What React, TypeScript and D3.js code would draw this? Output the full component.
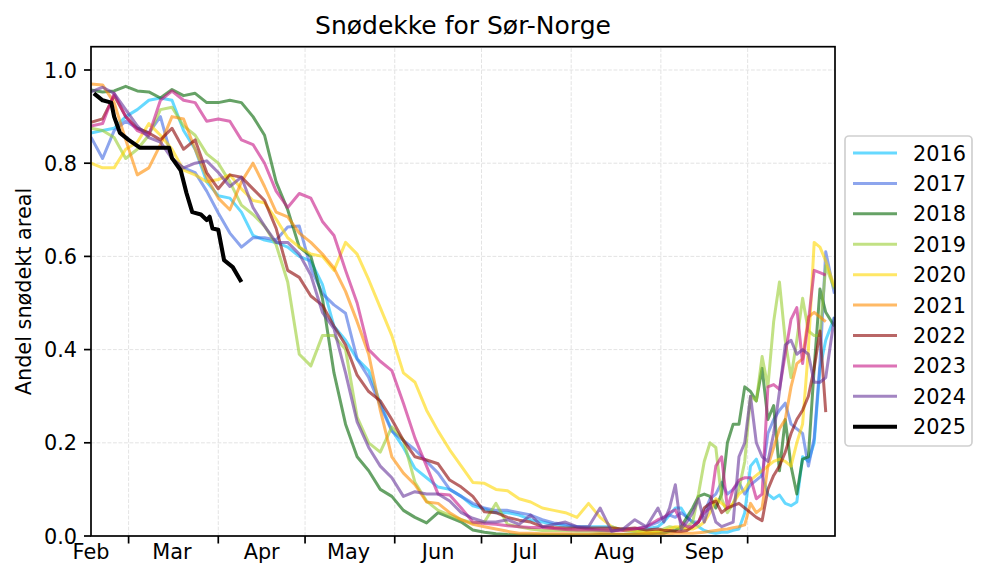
import * as d3 from "d3";

// ── Data ──────────────────────────────────────────────────────────────────────

// days since 16 Feb; every 4 days until August, then every 2 where the autumn snow gets noisy
const days = [
  0, 4, 8, 12, 16, 20, 24, 28, 32, 36,
  40, 44, 48, 52, 56, 60, 64, 68, 72, 76,
  80, 84, 88, 92, 96, 100, 104, 108, 112, 116,
  120, 124, 128, 132, 136, 140, 144, 148, 152, 156,
  160, 164, 168, 172, 176, 180, 184, 188, 192,
  196, 198, 200, 202, 204, 206, 208, 210, 212, 214,
  216, 218, 220, 222, 224, 226, 228, 230, 232, 234,
  236, 238, 240, 242, 244, 246, 248, 250, 252, 254, 257,
];

const y2016 = [
  .865, .87, .875, .90, .915, .935, .94, .935, .87, .83,
  .76, .73, .725, .695, .645, .635, .63, .62, .60, .59,
  .54, .45, .42, .38, .355, .285, .227, .19, .145, .125,
  .105, .10, .085, .065, .058, .05, .05, .045, .035, .03,
  .025, .022, .02, .02, .02, .02, .012, .01, .015,
  .02, .03, .045, .06, .06, .04, .03, .02, .012, .008,
  .006, .008, .008, .012, .015, .05, .15, .165, .13, .09,
  .08, .088, .07, .065, .073, .17, .16, .20, .36, .42, .47,
];
const y2017 = [
  .856, .81, .87, .89, .875, .865, .90, .81, .79, .78,
  .74, .693, .65, .62, .64, .64, .635, .663, .665, .575,
  .52, .496, .478, .38, .34, .28, .225, .205, .185, .16,
  .135, .10, .085, .07, .06, .055, .055, .05, .045, .035,
  .028, .025, .02, .015, .012, .01, .015, .015, .02,
  .03, .04, .045, .04, .05, .04, .03, .03, .05, .08,
  .09, .115, .09, .10, .115, .09, .11, .12, .13, .22,
  .25, .27, .285, .24, .23, .22, .15, .21, .37, .61, .52,
];
const y2018 = [
  .957, .953, .955, .965, .955, .953, .94, .958, .945, .95,
  .93, .93, .935, .93, .90, .86, .76, .70, .62, .60,
  .51, .35, .24, .17, .14, .10, .085, .055, .04, .028,
  .05, .04, .03, .013, .008, .005, .003, .002, .002, .002,
  .002, .002, .002, .002, .003, .003, .003, .004, .005,
  .006, .006, .01, .012, .02, .04, .06, .085, .09, .085,
  .06, .09, .20, .24, .24, .32, .31, .29, .36, .25,
  .28, .14, .25, .15, .09, .165, .17, .36, .53, .48, .45,
];
const y2019 = [
  .875, .87, .855, .81, .83, .86, .915, .92, .88, .86,
  .82, .80, .76, .71, .69, .665, .625, .545, .39, .365,
  .43, .43, .40, .255, .20, .18, .234, .206, .115, .075,
  .055, .045, .035, .028, .03, .07, .025, .02, .015, .012,
  .012, .012, .01, .01, .01, .012, .015, .01, .01,
  .01, .015, .02, .018, .015, .02, .03, .09, .16, .20,
  .19, .08, .05, .07, .10, .16, .30, .29, .385, .32,
  .46, .545, .42, .34, .42, .51, .44, .43, .43, .58, .53,
];
const y2020 = [
  .80, .79, .79, .83, .845, .885, .86, .83, .785, .775,
  .76, .765, .775, .745, .72, .715, .68, .64, .62, .605,
  .60, .57, .63, .605, .55, .49, .43, .35, .33, .27,
  .225, .185, .15, .115, .113, .10, .097, .08, .073, .06,
  .055, .05, .04, .07, .04, .02, .012, .01, .008,
  .01, .012, .015, .02, .02, .015, .015, .02, .03, .05,
  .08, .07, .06, .07, .09, .10, .12, .13, .14, .15,
  .16, .165, .16, .15, .20, .24, .40, .63, .62, .59, .535,
];
const y2021 = [
  .97, .968, .93, .85, .775, .79, .84, .90, .895, .83,
  .77, .725, .70, .76, .80, .75, .695, .685, .65, .63,
  .605, .575, .525, .46, .39, .27, .17, .135, .11, .073,
  .07, .05, .035, .025, .02, .015, .01, .006, .006, .005,
  .005, .005, .004, .004, .005, .005, .004, .004, .005,
  .005, .005, .005, .006, .006, .006, .006, .007, .008, .01,
  .012, .014, .015, .018, .02, .024, .07, .05, .06, .15,
  .19, .23, .25, .32, .37, .38, .47, .48, .47, .46, null,
];
const y2022 = [
  .888, .895, .945, .90, .875, .865, .85, .875, .83, .85,
  .78, .745, .775, .77, .745, .72, .66, .57, .555, .515,
  .495, .45, .41, .345, .31, .29, .25, .205, .17, .163,
  .155, .12, .105, .085, .052, .05, .04, .034, .03, .02,
  .018, .017, .017, .017, .017, .017, .015, .017, .013,
  .015, .012, .012, .01, .01, .012, .02, .03, .06, .07,
  .075, .05, .06, .065, .07, .06, .05, .04, .033, .10,
  .13, .15, .18, .22, .25, .27, .30, .36, .44, .266, null,
];
const y2023 = [
  .88, .885, .95, .90, .87, .86, .935, .955, .935, .93,
  .89, .895, .89, .85, .84, .80, .74, .705, .735, .725,
  .675, .645, .57, .50, .40, .375, .355, .285, .21, .15,
  .09, .088, .06, .03, .027, .025, .022, .02, .018, .018,
  .016, .014, .013, .013, .013, .012, .012, .015, .02,
  .035, .04, .05, .056, .03, .02, .02, .03, .05, .06,
  .15, .17, .06, .10, .12, .125, .125, .08, .09, .32,
  .325, .315, .39, .465, .49, .37, .46, .57, .565, .56, null,
];
const y2024 = [
  .953, .963, .95, .915, .88, .855, .845, .81, .79, .80,
  .805, .78, .75, .77, .705, .665, .63, .63, .605, .56,
  .48, .445, .35, .245, .19, .15, .125, .085, .095, .09,
  .09, .075, .05, .038, .03, .03, .035, .025, .045, .02,
  .025, .03, .02, .02, .06, .01, .015, .035, .02,
  .06, .03, .06, .11, .015, .03, .05, .08, .03, .07,
  .03, .02, .025, .03, .17, .20, .30, .20, .17, .16,
  .22, .31, .41, .42, .39, .40, .39, .33, .33, .34, .47,
];

// this year only runs to late March, read at its own corners
const days2025 = [1, 4, 7, 8, 10, 13, 17, 27, 28, 31, 33, 35, 38, 40, 41, 42, 44, 46, 49, 52];
const y2025 = [
  .95, .935, .93, .90, .865, .85, .833, .833, .811, .785,
  .736, .695, .69, .678, .685, .66, .657, .592, .577, .545,
];

const years = ["2016", "2017", "2018", "2019", "2020", "2021", "2022", "2023", "2024", "2025"];
const colors = [
  "deepskyblue", "royalblue", "darkgreen", "yellowgreen", "gold",
  "darkorange", "darkred", "mediumvioletred", "rebeccapurple", "black",
];
const values = [y2016, y2017, y2018, y2019, y2020, y2021, y2022, y2023, y2024, y2025];

const monthStarts = [13, 44, 74, 105, 135, 166, 197, 227];
const monthMids = [0, 28, 59, 89, 120, 150, 181, 212];
const monthLabels = ["Feb", "Mar", "Apr", "May", "Jun", "Jul", "Aug", "Sep"];
const yTicks = [0, 0.2, 0.4, 0.6, 0.8, 1.0];

// ── Layout ────────────────────────────────────────────────────────────────────

const WIDTH = 988;
const HEIGHT = 578;
const FONT = "'DejaVu Sans', sans-serif";
const INK = "#000";
const GRID = "#dcdcdc";

const x = d3.scaleLinear().domain([0, 257.2]).range([91, 835]);
const y = d3.scaleLinear().domain([0, 1.05]).range([536, 46.7]);
const legendY = d3.scalePoint<string>().domain(years).range([153, 426.7]);

const line = d3
  .line<[number, number | null]>()
  .defined((d) => d[1] !== null)
  .x((d) => x(d[0]))
  .y((d) => y(d[1] as number));

export default function App() {
  return (
    <svg
      width={WIDTH}
      height={HEIGHT}
      style={{ position: "absolute", left: 0, top: 0, background: "#fff" }}
      fontFamily={FONT}
    >
      <defs>
        <clipPath id="plot">
          <rect x={91} y={46.7} width={744} height={489.3} />
        </clipPath>
      </defs>

      {/* Grid */}
      {monthStarts.map((d) => (
        <line key={d} x1={x(d)} x2={x(d)} y1={y(0)} y2={y(1.05)} stroke={GRID} strokeWidth={0.8} strokeDasharray="3.8 1.7" />
      ))}
      {yTicks.slice(1).map((t) => (
        <line key={t} x1={91} x2={835} y1={y(t)} y2={y(t)} stroke={GRID} strokeWidth={0.8} strokeDasharray="3.8 1.7" />
      ))}

      {/* Lines */}
      <g clipPath="url(#plot)" fill="none" strokeLinejoin="round">
        {values.map((vals, i) => {
          const isLast = i === values.length - 1;
          const xs = isLast ? days2025 : days;
          const pts = xs.map((d, j) => [d, vals[j]] as [number, number | null]);
          return (
            <path
              key={years[i]}
              d={line(pts) ?? ""}
              stroke={colors[i]}
              strokeOpacity={isLast ? 1 : 0.6}
              strokeWidth={isLast ? 4.1 : 3}
            />
          );
        })}
      </g>

      {/* Frame */}
      <rect x={91} y={46.7} width={744} height={489.3} fill="none" stroke={INK} strokeWidth={1.7} />

      {/* Y axis */}
      {yTicks.map((t) => (
        <g key={t}>
          <line x1={84} x2={91} y1={y(t)} y2={y(t)} stroke={INK} strokeWidth={1.7} />
          <text x={77} y={y(t) + 7.6} textAnchor="end" fontSize={20.8} fill={INK}>
            {t.toFixed(1)}
          </text>
        </g>
      ))}
      <text
        transform="translate(31,291.5) rotate(-90)"
        textAnchor="middle"
        fontSize={20.8}
        fill={INK}
      >
        Andel snødekt areal
      </text>

      {/* X axis */}
      {monthStarts.map((d) => (
        <line key={d} x1={x(d)} x2={x(d)} y1={536} y2={543.5} stroke={INK} strokeWidth={1.7} />
      ))}
      {monthMids.map((d, i) => (
        <text key={d} x={x(d)} y={559} textAnchor="middle" fontSize={20.8} fill={INK}>
          {monthLabels[i]}
        </text>
      ))}

      <text x={463} y={34} textAnchor="middle" fontSize={25} fill={INK}>
        Snødekke for Sør-Norge
      </text>

      {/* Legend */}
      <rect x={845} y={136} width={127} height={310} rx={4} fill="#fff" fillOpacity={0.8} stroke="#d0d0d0" strokeWidth={1.7} />
      {years.map((yr, i) => {
        const isLast = i === years.length - 1;
        const cy = legendY(yr) as number;
        return (
          <g key={yr}>
            <line
              x1={853}
              x2={897}
              y1={cy}
              y2={cy}
              stroke={colors[i]}
              strokeOpacity={isLast ? 1 : 0.6}
              strokeWidth={isLast ? 4.1 : 3}
            />
            <text x={913} y={cy + 7.6} fontSize={20.8} fill={INK}>
              {yr}
            </text>
          </g>
        );
      })}
    </svg>
  );
}
